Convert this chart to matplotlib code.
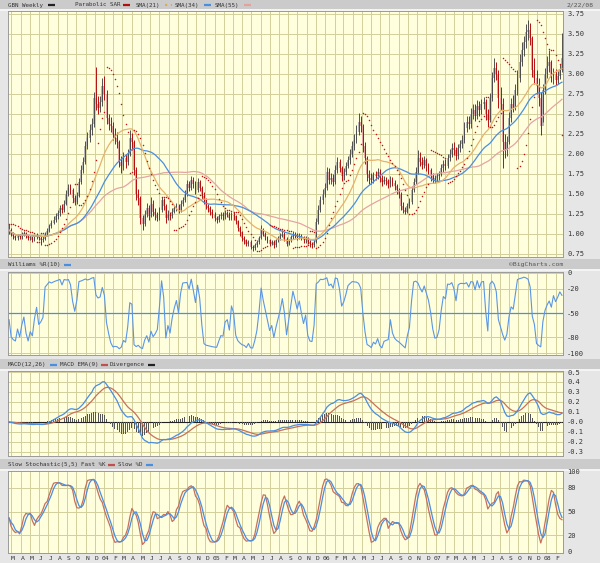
import numpy as np
import pandas as pd
import matplotlib
matplotlib.use('Agg')
import matplotlib.pyplot as plt
from matplotlib.patches import Rectangle

# GBN weekly (Feb 21 2003 .. Feb 22 2008)
close = [
    1.05, 1.00, 0.97, 0.95, 0.98, 0.96, 0.99, 1.01, 0.97, 0.95,
    0.96, 0.93, 0.96, 0.98, 0.95, 0.93, 0.94, 1.00, 1.04, 1.10,
    1.14, 1.18, 1.22, 1.26, 1.32, 1.30, 1.38, 1.50, 1.58, 1.55,
    1.45, 1.40, 1.48, 1.65, 1.80, 1.90, 2.10, 2.20, 2.30, 2.38,
    2.70, 2.62, 2.58, 2.65, 2.85, 2.75, 2.45, 2.38, 2.35, 2.25,
    2.20, 2.15, 1.90, 1.85, 1.95, 1.90, 2.00, 2.20, 2.15, 1.80,
    1.50, 1.45, 1.20, 1.12, 1.25, 1.32, 1.22, 1.38, 1.28, 1.24,
    1.20, 1.30, 1.42, 1.35, 1.20, 1.25, 1.22, 1.28, 1.32, 1.35,
    1.30, 1.38, 1.42, 1.50, 1.62, 1.58, 1.68, 1.62, 1.55, 1.65,
    1.58, 1.48, 1.42, 1.35, 1.32, 1.28, 1.24, 1.20, 1.18, 1.22,
    1.24, 1.22, 1.26, 1.24, 1.20, 1.24, 1.22, 1.16, 1.08, 1.02,
    0.95, 0.92, 0.88, 0.90, 0.84, 0.82, 0.86, 0.90, 0.95, 1.05,
    1.00, 0.96, 0.92, 0.88, 0.90, 0.86, 0.92, 0.95, 0.98, 1.00,
    0.94, 0.88, 0.92, 0.96, 1.00, 0.98, 0.96, 0.98, 0.95, 0.92,
    0.94, 0.90, 0.87, 0.86, 0.90, 1.15, 1.30, 1.42, 1.50, 1.58,
    1.78, 1.68, 1.70, 1.65, 1.80, 1.90, 1.82, 1.72, 1.78, 1.85,
    1.92, 2.00, 2.10, 2.18, 2.28, 2.40, 2.35, 2.10, 1.95, 1.75,
    1.70, 1.68, 1.74, 1.72, 1.78, 1.70, 1.65, 1.68, 1.66, 1.62,
    1.68, 1.64, 1.60, 1.55, 1.50, 1.35, 1.30, 1.28, 1.35, 1.40,
    1.55, 1.65, 1.78, 1.95, 1.90, 1.86, 1.92, 1.85, 1.80, 1.72,
    1.68, 1.70, 1.72, 1.75, 1.82, 1.88, 1.85, 1.95, 2.00, 2.08,
    2.05, 1.98, 2.08, 2.12, 2.18, 2.32, 2.40, 2.38, 2.50, 2.55,
    2.48, 2.60, 2.55, 2.62, 2.65, 2.50, 2.42, 2.70, 2.95, 3.08,
    3.00, 2.70, 2.62, 2.15, 2.05, 2.15, 2.45, 2.62, 2.58, 2.80,
    2.95, 3.15, 3.30, 3.40, 3.52, 3.55, 3.45, 3.05, 2.95, 2.85,
    2.70, 2.35, 2.80, 3.00, 3.10, 3.15, 2.95, 3.00, 2.92, 2.98,
    3.05, 3.20,
]
high = [
    1.12, 1.07, 1.02, 0.99, 1.00, 1.00, 1.02, 1.04, 1.03, 0.99,
    0.99, 0.98, 0.98, 1.01, 0.99, 0.97, 0.97, 1.03, 1.07, 1.13,
    1.18, 1.22, 1.26, 1.30, 1.36, 1.37, 1.42, 1.55, 1.63, 1.62,
    1.58, 1.49, 1.52, 1.70, 1.86, 1.96, 2.16, 2.28, 2.38, 2.45,
    2.78, 3.09, 2.72, 2.72, 2.95, 2.97, 2.80, 2.50, 2.46, 2.40,
    2.32, 2.28, 2.18, 1.98, 2.02, 2.00, 2.06, 2.30, 2.26, 2.18,
    1.84, 1.56, 1.48, 1.24, 1.30, 1.39, 1.36, 1.46, 1.42, 1.32,
    1.28, 1.34, 1.46, 1.45, 1.38, 1.30, 1.28, 1.32, 1.36, 1.39,
    1.38, 1.42, 1.46, 1.55, 1.68, 1.66, 1.72, 1.71, 1.66, 1.70,
    1.68, 1.60, 1.52, 1.45, 1.38, 1.35, 1.31, 1.27, 1.23, 1.25,
    1.28, 1.27, 1.30, 1.29, 1.27, 1.27, 1.27, 1.24, 1.18, 1.10,
    1.04, 0.98, 0.94, 0.93, 0.92, 0.86, 0.89, 0.93, 0.98, 1.11,
    1.08, 1.02, 0.98, 0.94, 0.93, 0.92, 0.94, 0.98, 1.01, 1.05,
    1.02, 0.96, 0.94, 0.99, 1.04, 1.03, 1.01, 1.01, 1.00, 0.97,
    0.97, 0.96, 0.92, 0.90, 0.93, 1.20, 1.36, 1.47, 1.56, 1.64,
    1.84, 1.82, 1.76, 1.75, 1.86, 1.96, 1.94, 1.85, 1.82, 1.90,
    1.98, 2.06, 2.16, 2.25, 2.36, 2.51, 2.48, 2.38, 2.15, 1.98,
    1.80, 1.76, 1.78, 1.79, 1.82, 1.81, 1.74, 1.72, 1.71, 1.69,
    1.72, 1.71, 1.67, 1.63, 1.58, 1.53, 1.40, 1.34, 1.39, 1.45,
    1.60, 1.70, 1.84, 2.05, 2.02, 1.96, 1.98, 1.95, 1.89, 1.83,
    1.76, 1.74, 1.76, 1.79, 1.87, 1.93, 1.94, 2.00, 2.06, 2.14,
    2.15, 2.09, 2.13, 2.18, 2.24, 2.40, 2.48, 2.48, 2.57, 2.63,
    2.62, 2.67, 2.66, 2.69, 2.71, 2.69, 2.56, 2.76, 3.02, 3.20,
    3.15, 3.05, 2.84, 2.70, 2.25, 2.22, 2.52, 2.70, 2.74, 2.88,
    3.05, 3.25, 3.40, 3.48, 3.62, 3.67, 3.64, 3.48, 3.20, 3.05,
    2.95, 2.78, 2.88, 3.08, 3.22, 3.30, 3.18, 3.08, 3.06, 3.04,
    3.12, 3.51,
]
low = [
    1.00, 0.97, 0.94, 0.92, 0.93, 0.94, 0.94, 0.97, 0.95, 0.92,
    0.93, 0.90, 0.91, 0.94, 0.93, 0.86, 0.90, 0.93, 0.98, 1.02,
    1.08, 1.12, 1.15, 1.19, 1.23, 1.26, 1.28, 1.36, 1.47, 1.50,
    1.40, 1.36, 1.37, 1.46, 1.62, 1.76, 1.87, 2.06, 2.15, 2.24,
    2.34, 2.55, 2.50, 2.52, 2.60, 2.68, 2.38, 2.30, 2.28, 2.18,
    2.12, 2.08, 1.84, 1.76, 1.80, 1.82, 1.86, 1.98, 2.05, 1.74,
    1.43, 1.36, 1.12, 1.05, 1.10, 1.21, 1.18, 1.21, 1.22, 1.18,
    1.16, 1.18, 1.28, 1.30, 1.14, 1.17, 1.18, 1.20, 1.26, 1.29,
    1.26, 1.28, 1.35, 1.40, 1.48, 1.54, 1.55, 1.58, 1.50, 1.52,
    1.54, 1.44, 1.38, 1.31, 1.28, 1.24, 1.20, 1.16, 1.14, 1.15,
    1.19, 1.18, 1.19, 1.21, 1.17, 1.18, 1.18, 1.12, 1.04, 0.98,
    0.91, 0.88, 0.85, 0.85, 0.81, 0.79, 0.80, 0.84, 0.88, 0.94,
    0.97, 0.93, 0.89, 0.85, 0.86, 0.83, 0.84, 0.90, 0.93, 0.96,
    0.91, 0.85, 0.86, 0.90, 0.94, 0.95, 0.93, 0.94, 0.92, 0.89,
    0.89, 0.87, 0.84, 0.83, 0.84, 0.89, 1.12, 1.27, 1.38, 1.46,
    1.55, 1.62, 1.63, 1.60, 1.62, 1.76, 1.77, 1.66, 1.68, 1.74,
    1.82, 1.88, 1.96, 2.05, 2.14, 2.24, 2.28, 2.02, 1.88, 1.66,
    1.62, 1.62, 1.64, 1.67, 1.69, 1.65, 1.60, 1.62, 1.61, 1.58,
    1.59, 1.60, 1.55, 1.50, 1.45, 1.30, 1.26, 1.25, 1.26, 1.32,
    1.38, 1.52, 1.62, 1.75, 1.85, 1.81, 1.82, 1.79, 1.75, 1.66,
    1.64, 1.64, 1.66, 1.68, 1.72, 1.78, 1.80, 1.82, 1.91, 1.96,
    1.99, 1.92, 1.94, 2.03, 2.07, 2.14, 2.27, 2.31, 2.33, 2.44,
    2.41, 2.44, 2.48, 2.50, 2.56, 2.43, 2.34, 2.40, 2.66, 2.90,
    2.92, 2.58, 2.55, 1.83, 1.95, 1.98, 2.12, 2.40, 2.52, 2.55,
    2.74, 2.90, 3.10, 3.22, 3.33, 3.42, 3.36, 2.96, 2.88, 2.75,
    2.60, 2.24, 2.40, 2.75, 2.95, 3.02, 2.90, 2.88, 2.86, 2.88,
    2.94, 3.02,
]

price_ticks = [0.75, 1.00, 1.25, 1.50, 1.75, 2.00, 2.25, 2.50, 2.75, 3.00, 3.25, 3.50, 3.75]
wr_ticks = [0, -20, -50, -80, -100]
macd_ticks = [0.5, 0.4, 0.3, 0.2, 0.1, 0.0, -0.1, -0.2, -0.3]
macd_labels = ['0.5', '0.4', '0.3', '0.2', '0.1', '-0.0', '-0.1', '-0.2', '-0.3']
sto_ticks = [100, 80, 50, 20, 0]
month_letters = 'JFMAMJJASOND'

c = np.array(close)
h = np.array(high)
l = np.array(low)
n = len(c)
o = np.r_[c[0], c[:-1]]
x = np.arange(n)
dates = pd.date_range(end='2008-02-22', periods=n, freq='W-FRI')

# indicators
cs = pd.Series(c)
hs = pd.Series(h)
ls_ = pd.Series(l)
sma21 = cs.rolling(21, min_periods=1).mean()
sma34 = cs.rolling(34, min_periods=1).mean()
sma55 = cs.rolling(55, min_periods=1).mean()

hh10 = hs.rolling(10, min_periods=1).max()
ll10 = ls_.rolling(10, min_periods=1).min()
willr = -100 * (hh10 - cs) / (hh10 - ll10)

macd = cs.ewm(span=12, adjust=False).mean() - cs.ewm(span=26, adjust=False).mean()
signal = macd.ewm(span=9, adjust=False).mean()
diverg = macd - signal

hh5 = hs.rolling(5, min_periods=1).max()
ll5 = ls_.rolling(5, min_periods=1).min()
raw_k = 100 * (cs - ll5) / (hh5 - ll5)
fast_k = raw_k.rolling(5, min_periods=1).mean()
slow_d = fast_k.rolling(3, min_periods=1).mean()


def parabolic_sar(hi, lo, step=0.02, amax=0.2):
    sar = np.zeros(len(hi))
    up = False
    af = step
    ep = lo[0]
    sar[0] = hi[0]
    for i in range(1, len(hi)):
        s = sar[i - 1] + af * (ep - sar[i - 1])
        if up:
            s = min(s, lo[i - 1], lo[max(i - 2, 0)])
            if lo[i] < s:
                up, s, ep, af = False, ep, lo[i], step
            elif hi[i] > ep:
                ep = hi[i]
                af = min(af + step, amax)
        else:
            s = max(s, hi[i - 1], hi[max(i - 2, 0)])
            if hi[i] > s:
                up, s, ep, af = True, ep, hi[i], step
            elif lo[i] < ep:
                ep = lo[i]
                af = min(af + step, amax)
        sar[i] = s
    return sar


sar = parabolic_sar(h, l)

# month positions (in weeks from first bar)
months = pd.date_range('2003-03-01', '2008-02-01', freq='MS')
mpos = np.array([(m - dates[0]).days / 7.0 for m in months])
mlab = [('%02d' % (m.year % 100)) if m.month == 1 else month_letters[m.month - 1] for m in months]

BG = '#ffffde'
GRID = '#d2cf9c'
FONT = 'DejaVu Sans Mono'
FS = 5
HFS = 4.2

W, H = 600, 563
fig = plt.figure(figsize=(6.0, 5.63), dpi=100, facecolor='#e6e6e6')

bg = fig.add_axes([0, 0, 1, 1], zorder=-5)
bg.set_xlim(0, W)
bg.set_ylim(H, 0)
bg.axis('off')


def pax(x0, y0, x1, y1):
    a = fig.add_axes([x0 / W, 1 - y1 / H, (x1 - x0) / W, (y1 - y0) / H])
    a.set_facecolor(BG)
    a.set_xlim(-0.5, n - 0.5)
    for s in a.spines.values():
        s.set_color('#9a9a9a')
        s.set_linewidth(0.7)
    a.set_xticks([])
    a.yaxis.tick_right()
    a.tick_params(axis='y', length=0, pad=3, labelsize=FS, labelcolor='#333333')
    for mp in mpos:
        a.axvline(mp, color=GRID, lw=0.7, zorder=0)
    return a


def header(y0, y1, items, right=None, rx=None):
    bg.add_patch(Rectangle((0, y0), W, y1 - y0, color='#cbcbcb', lw=0))
    bg.add_patch(Rectangle((0, y1), W, 1.5, color='#f4f4f4', lw=0))
    yc = (y0 + y1) / 2 + 0.5
    for tx, t, lx, col, ls in items:
        bg.text(tx, yc, t, fontsize=HFS, family=FONT, va='center', ha='left', color='#333333')
        if lx is not None:
            bg.plot([lx, lx + 7], [yc, yc], color=col, lw=1.6, ls=ls, solid_capstyle='butt')
    if right:
        bg.text(rx, yc, right, fontsize=HFS + 0.4, family=FONT, va='center', ha='right', color='#555555')


header(0, 9, [(8, 'GBN Weekly', 48, '#222222', '-'),
              (75, 'Parabolic SAR', 123, '#b01010', '-'),
              (136, 'SMA(21)', 165, '#e0a850', ':'),
              (175, 'SMA(34)', 204, '#4a8ee0', '-'),
              (215, 'SMA(55)', 244, '#e4a0a0', '-')], '2/22/08', 594)
header(259, 269, [(8, 'Williams %R(10)', 64, '#4a8ee0', '-')], '\u00a9BigCharts.com', 563)
header(359, 369, [(8, 'MACD(12,26)', 50, '#4a8ee0', '-'),
                  (60, 'MACD EMA(9)', 101, '#c0504d', '-'),
                  (110, 'Divergence', 148, '#222222', '-')])
header(459, 469, [(8, 'Slow Stochastic(5,5)', None, None, None),
                  (81, 'Fast %K', 108, '#c0504d', '-'),
                  (118, 'Slow %D', 146, '#4a8ee0', '-')])

# main price panel
ax = pax(8, 11, 563, 257)
ax.set_ylim(0.7125, 3.7875)
ax.set_yticks(price_ticks)
ax.set_yticklabels(['%.2f' % v for v in price_ticks], family=FONT)
for v in price_ticks:
    ax.axhline(v, color=GRID, lw=0.7, zorder=0)
up = c >= o
blo = np.minimum(o, c)
bht = np.maximum(np.abs(c - o), 0.012)
ax.bar(x[up], bht[up], bottom=blo[up], width=0.9, color='#b8b8b8', lw=0, zorder=2)
ax.bar(x[~up], bht[~up], bottom=blo[~up], width=0.9, color='#e9a6a6', lw=0, zorder=2)
ax.vlines(x[up], l[up], h[up], color='#444444', lw=0.65, zorder=3)
ax.vlines(x[~up], l[~up], h[~up], color='#b00000', lw=0.65, zorder=3)
ax.plot(x, sma55, color='#e4a4a4', lw=0.9, zorder=4)
ax.plot(x, sma34, color='#4a8ee0', lw=0.9, zorder=4)
ax.plot(x, sma21, color='#e6b26a', lw=0.9, zorder=4)
ax.scatter(x, sar, s=1.2, color='#c01818', lw=0, zorder=5)

# Williams %R
aw = pax(8, 272, 563, 355)
aw.set_ylim(-102.5, 1.25)
aw.set_yticks(wr_ticks)
aw.set_yticklabels([str(v) for v in wr_ticks], family=FONT)
for v in [0, -20, -80, -100]:
    aw.axhline(v, color=GRID, lw=0.7, zorder=0)
aw.axhline(-50, color='#4a8ee0', lw=0.9, zorder=1)
aw.plot(x, willr, color='#5a96e6', lw=0.8, zorder=3)

# MACD
am = pax(8, 371, 563, 456)
am.set_ylim(-0.34, 0.51)
am.set_yticks(macd_ticks)
am.set_yticklabels(macd_labels, family=FONT)
for v in macd_ticks:
    am.axhline(v, color=GRID, lw=0.7, zorder=0)
am.axhline(0, color='#222222', lw=0.8, zorder=2)
am.bar(x, diverg, width=0.45, color='#555555', lw=0, zorder=2)
am.plot(x, signal, color='#c8705a', lw=0.9, zorder=3)
am.plot(x, macd, color='#4a8ee0', lw=0.9, zorder=4)

# slow stochastic
ast = pax(8, 471, 563, 553)
ast.set_ylim(-2.5, 101.25)
ast.set_yticks(sto_ticks)
ast.set_yticklabels([str(v) for v in sto_ticks], family=FONT)
for v in [80, 50, 20]:
    ast.axhline(v, color=GRID, lw=0.7, zorder=0)
ast.plot(x, fast_k, color='#c8705a', lw=0.9, zorder=3)
ast.plot(x, slow_d, color='#4a8ee0', lw=0.9, zorder=4)

# month labels under the last panel
for mp, t in zip(mpos, mlab):
    px = 8 + (mp + 0.5 + 0.8) * 555.0 / n
    bg.text(px, 558, t, fontsize=4.6, family=FONT, ha='center', va='center', color='#333333')

fig.savefig('out.png', dpi=100, facecolor=fig.get_facecolor())
